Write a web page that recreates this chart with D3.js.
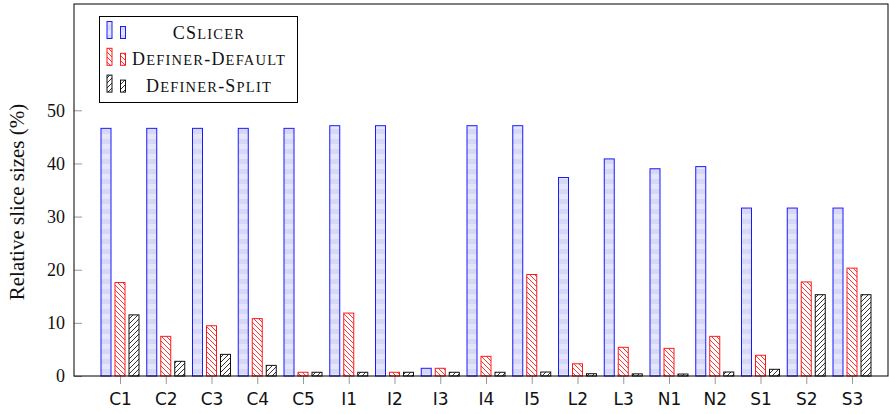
<!DOCTYPE html>
<html>
<head>
<meta charset="utf-8">
<script src="https://cdn.jsdelivr.net/npm/d3@7/dist/d3.min.js"></script>
<style>
  body { margin: 0; background: #fff; }
  svg { display: block; }
</style>
</head>
<body>
<div id="plot"></div>
<script>
// Data
var categories = ["C1","C2","C3","C4","C5","I1","I2","I3","I4","I5","L2","L3","N1","N2","S1","S2","S3"];
var cslicer        = [46.6,46.6,46.6,46.6,46.6,47.1,47.1,1.45,47.1,47.1,37.35,40.85,39.0,39.4,31.6,31.6,31.6];
var definerDefault = [17.6,7.46,9.46,10.8,0.7,11.84,0.7,1.45,3.7,19.1,2.3,5.4,5.2,7.46,3.9,17.7,20.3];
var definerSplit   = [11.5,2.76,4.07,2.0,0.7,0.7,0.7,0.7,0.7,0.75,0.43,0.4,0.37,0.75,1.26,15.3,15.3];
var yTicks = [0,10,20,30,40,50];
var seriesNames = ["CSlicer","Definer-Default","Definer-Split"];

var margin = {top: 4, right: 1, bottom: 38, left: 74},
    width = 889 - margin.left - margin.right,
    height = 414 - margin.top - margin.bottom;

var svg = d3.select("#plot")
    .append("svg")
    .attr("width", width + margin.left + margin.right)
    .attr("height", height + margin.top + margin.bottom);

// Fill patterns
var defs = svg.append("defs");
var pb = defs.append("pattern").attr("id", "pBlue")
    .attr("patternUnits", "userSpaceOnUse").attr("width", 10).attr("height", 10);
pb.append("rect").attr("width", 10).attr("height", 5).attr("fill", "#e6e6fb");
pb.append("rect").attr("y", 5).attr("width", 10).attr("height", 5).attr("fill", "#d7d7f8");

var pr = defs.append("pattern").attr("id", "pRed")
    .attr("patternUnits", "userSpaceOnUse").attr("width", 5).attr("height", 5);
pr.append("path").attr("d", "M-1,-1L6,6M-1,4L1,6M4,-1L6,1")
    .attr("stroke", "#ff0000").attr("stroke-width", 0.8);

var pk = defs.append("pattern").attr("id", "pBlack")
    .attr("patternUnits", "userSpaceOnUse").attr("width", 5).attr("height", 5);
pk.append("path").attr("d", "M-1,6L6,-1M-1,1L1,-1M4,6L6,4")
    .attr("stroke", "#000").attr("stroke-width", 0.8);

var styles = [
    {fill: "url(#pBlue)", stroke: "#1a1aff"},
    {fill: "url(#pRed)", stroke: "#ff1a1a"},
    {fill: "url(#pBlack)", stroke: "#111"}
];

var g = svg.append("g")
    .attr("transform", "translate(" + margin.left + "," + margin.top + ")");

var x = d3.scalePoint()
    .domain(categories)
    .range([46, 778]);

var y = d3.scaleLinear()
    .domain([0, 70])
    .range([height, 0]);

var barW = 10, offsets = [-14, 0, 14];

// Bars
[cslicer, definerDefault, definerSplit].forEach(function(vals, s){
    g.append("g")
        .selectAll("rect")
        .data(vals)
        .enter()
        .append("rect")
        .attr("x", function(d, i){ return x(categories[i]) + offsets[s] - barW/2; })
        .attr("y", function(d){ return y(d); })
        .attr("width", barW)
        .attr("height", function(d){ return y(0) - y(d); })
        .attr("fill", styles[s].fill)
        .attr("stroke", styles[s].stroke)
        .attr("stroke-width", 1);
});

// X axis
var xAxis = g.append("g")
    .attr("transform", "translate(0," + height + ")")
    .call(d3.axisBottom(x).tickSize(8).tickSizeOuter(0));
xAxis.select(".domain").remove();
xAxis.selectAll(".tick line").attr("stroke", "#999");
xAxis.selectAll(".tick text")
    .attr("dy", "1.05em")
    .style("font-family", "'DejaVu Sans', sans-serif")
    .style("font-size", "17px")
    .attr("fill", "#111");

// Y axis
var yAxis = g.append("g")
    .call(d3.axisLeft(y).tickValues(yTicks).tickSize(-8).tickPadding(9));
yAxis.select(".domain").remove();
yAxis.selectAll(".tick line").attr("stroke", "#999");
yAxis.selectAll(".tick text")
    .style("font-family", "'Liberation Serif', serif")
    .style("font-size", "18px")
    .attr("fill", "#111");

// Frame
g.append("rect")
    .attr("width", width)
    .attr("height", height)
    .attr("fill", "none")
    .attr("stroke", "#000")
    .attr("stroke-width", 1);

// Y label
svg.append("text")
    .attr("transform", "translate(24," + (margin.top + height/2 + 12) + ") rotate(-90)")
    .attr("text-anchor", "middle")
    .style("font-family", "'Liberation Serif', serif")
    .style("font-size", "21px")
    .attr("fill", "#111")
    .text("Relative slice sizes (%)");

// Legend
var legend = svg.append("g");
legend.append("rect")
    .attr("x", 99.5).attr("y", 16.5)
    .attr("width", 198).attr("height", 86)
    .attr("fill", "#fff").attr("stroke", "#000");

// small caps by hand: capitals big, lowercase as smaller capitals
function smallCaps(textSel, str){
    var re = /([A-Z\-]+|[a-z]+)/g, m;
    while ((m = re.exec(str)) !== null) {
        var part = m[0];
        var lower = part === part.toLowerCase() && /[a-z]/.test(part);
        textSel.append("tspan")
            .style("font-size", lower ? "14.5px" : "18px")
            .text(part.toUpperCase());
    }
}

seriesNames.forEach(function(name, i){
    var base = 38.5 + i * 26.8;
    legend.append("rect")
        .attr("x", 107).attr("y", base - 17).attr("width", 5).attr("height", 17)
        .attr("fill", styles[i].fill).attr("stroke", styles[i].stroke);
    legend.append("rect")
        .attr("x", 120.5).attr("y", base - 12).attr("width", 5).attr("height", 12)
        .attr("fill", styles[i].fill).attr("stroke", styles[i].stroke);
    var t = legend.append("text")
        .attr("x", 209).attr("y", base)
        .attr("text-anchor", "middle")
        .style("font-family", "'Liberation Serif', serif")
        .style("letter-spacing", "1.2px")
        .attr("fill", "#111");
    smallCaps(t, name);
});
</script>
</body>
</html>
